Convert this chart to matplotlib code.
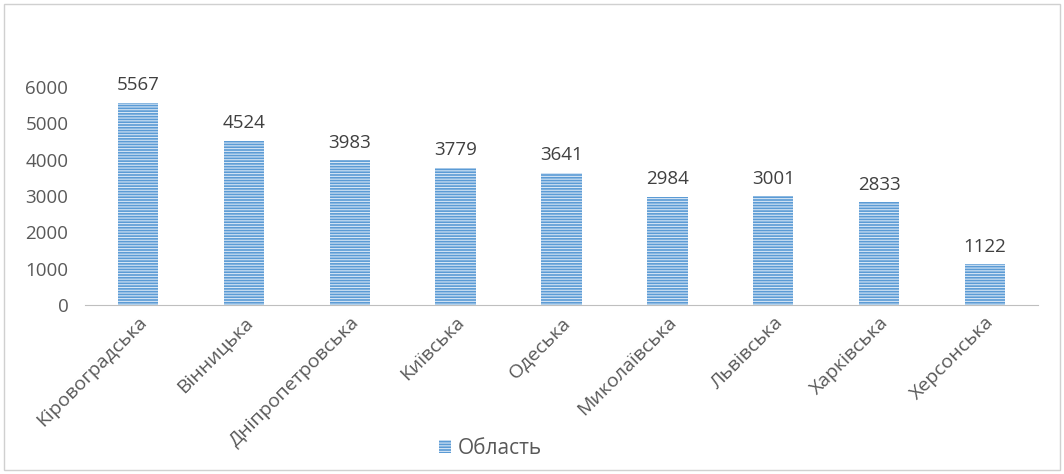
import matplotlib
matplotlib.use('Agg')
import matplotlib.pyplot as plt
from matplotlib.patches import Rectangle

## Дані ##
oblasti = ["Кіровоградська", "Вінницька", "Дніпропетровська", "Київська", "Одеська",
           "Миколаївська", "Львівська", "Харківська", "Херсонська"]
znachennya = [5567, 4524, 3983, 3779, 3641, 2984, 3001, 2833, 1122]
y_ticks = [0, 1000, 2000, 3000, 4000, 5000, 6000]

plt.rcParams['font.family'] = ['Open Sans', 'DejaVu Sans']
plt.rcParams['hatch.linewidth'] = 0.8
sirij = '#595959'

fig = plt.figure(figsize=(10.64, 4.74), dpi=100)
ax = fig.add_axes([85 / 1064, 1 - 305 / 474, 953 / 1064, 218 / 474])

bars = ax.bar(range(len(oblasti)), znachennya, width=0.38, color='#5b9bd5',
              edgecolor='#d6e6f5', linewidth=0, hatch='------', label='Область')

for b, v in zip(bars, znachennya):
    ax.annotate(str(v), (b.get_x() + b.get_width() / 2, v), xytext=(0, 6),
                textcoords='offset points', ha='center', va='bottom',
                fontsize=13.5, color='#404040')

ax.set_xlim(-0.5, len(oblasti) - 0.5)
ax.set_ylim(0, 6000)
ax.set_yticks(y_ticks)
ax.set_xticks(range(len(oblasti)))
ax.set_xticklabels(oblasti, rotation=45, ha='right', rotation_mode='anchor', fontsize=14)
ax.tick_params(axis='both', length=0, colors=sirij)
ax.tick_params(axis='y', pad=12, labelsize=13.5)
ax.tick_params(axis='x', pad=6)
for s in ['top', 'right', 'left']:
    ax.spines[s].set_visible(False)
ax.spines['bottom'].set_color('#bfbfbf')

## Легенда внизу ##
fig.legend(handles=[bars], labels=['Область'], loc='center', bbox_to_anchor=(490 / 1064, 1 - 448 / 474),
           frameon=False, fontsize=15, labelcolor=sirij, handlelength=0.6, handleheight=0.6,
           handletextpad=0.3)

## Рамка навколо діаграми ##
fig.patches.append(Rectangle((4 / 1064, 4 / 474), 1 - 8 / 1064, 1 - 8 / 474,
                             transform=fig.transFigure, fill=False, edgecolor='#d0d0d0', linewidth=1))

fig.savefig('out.png', dpi=100)
